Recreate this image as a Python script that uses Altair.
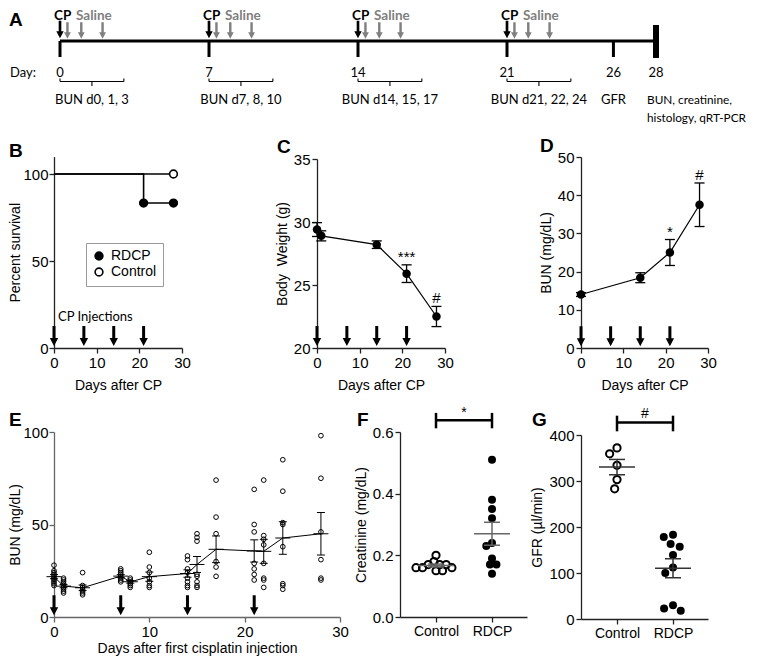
import altair as alt
import pandas as pd

# ======================= data =======================
# Panel A - protocol timeline (days)
cp_days = [0, 7, 14, 21]
saline_after_cp = [0.35, 1.0, 2.0]
timeline_ticks = [0, 7, 14, 21, 26]
end_day = 28
day_numbers = [0, 7, 14, 21, 26, 28]
bun_window_start = [0, 7, 14, 21]
bun_window_len = 3
bun_window_labels = ["BUN d0, 1, 3", "BUN d7, 8, 10", "BUN d14, 15, 17", "BUN d21, 22, 24"]
gfr_day = 26
end_labels = ["BUN, creatinine,", "histology, qRT-PCR"]

# Panel B - survival
surv_line_group = ["Control", "Control", "RDCP", "RDCP", "RDCP"]
surv_line_day = [0, 28, 0, 21, 28]
surv_line_pct = [100, 100, 100, 83.3, 83.3]
surv_pt_group = ["RDCP", "RDCP", "Control"]
surv_pt_day = [21, 28, 28]
surv_pt_pct = [83.3, 83.3, 100]
injection_days = [0, 7, 14, 21]

# Panel C - body weight
bw_day = [0, 1, 14, 21, 28]
bw_mean = [29.4, 28.9, 28.2, 25.9, 22.5]
bw_sem = [0.55, 0.4, 0.3, 0.7, 0.8]
bw_sig = ["", "", "", "***", "#"]

# Panel D - BUN
bun_day = [0, 14, 21, 28]
bun_mean = [14.0, 18.4, 25.0, 37.5]
bun_sem = [0.5, 1.3, 3.4, 5.7]
bun_sig = ["", "", "*", "#"]

# Panel E - BUN individual values
e_day = [0, 1, 3, 7, 8, 10, 14, 15, 17, 21, 22, 24, 28]
e_values = [
    [28, 25, 24, 23, 22, 21, 20, 19, 18, 17],
    [21, 20, 19, 18, 17, 16, 15, 14, 13],
    [24, 17, 16, 15, 14, 13, 12],
    [26, 25, 24, 23, 22, 21, 20, 19],
    [21, 20, 19, 18, 17, 16],
    [35, 27, 24, 21, 19, 17, 16],
    [33, 31, 26, 24, 21, 19, 17, 16],
    [45, 43, 41, 23, 22, 19, 17, 16],
    [74, 54, 45, 30, 27, 22],
    [69, 50, 46, 29, 26, 23, 20],
    [74, 44, 42, 39, 29, 21, 20, 16],
    [85, 68, 51, 50, 38, 18, 17, 15],
    [98, 75, 46, 31, 21, 20],
]
e_mean = [21.8, 16.7, 15.8, 22.1, 19.0, 21.8, 23.5, 28.4, 36.6, 35.7, 35.5, 42.7, 45.0]
e_sem = [1.1, 0.9, 1.5, 0.8, 0.7, 2.5, 2.0, 4.3, 7.2, 6.0, 6.5, 8.8, 11.5]

# Panel F - creatinine
groups = ["Control", "RDCP"]
creat_control = [0.20, 0.18, 0.17, 0.17, 0.17, 0.16, 0.16, 0.16, 0.15, 0.15]
creat_rdcp = [0.51, 0.38, 0.35, 0.32, 0.24, 0.23, 0.19, 0.17, 0.17, 0.14]
creat_sig = "*"

# Panel G - GFR
gfr_control = [372, 359, 334, 303, 283]
gfr_rdcp = [183, 178, 163, 157, 139, 112, 100, 30, 23, 18]
gfr_sig = "#"

# ======================= layout (page pixels) =======================
W, H = 744, 648
M = 8  # page margin


def p(v):
    return v - M


GEO = {
    "A": ((60, 656), (0, 120)),
    "B": ((54, 182), (348, 156.6)),
    "C": ((317, 445), (348, 159)),
    "D": ((581, 708), (348, 157)),
    "E": ((54, 340), (617, 432)),
    "F": ((400, 527), (617, 432)),
    "G": ((581, 708), (619, 435)),
}
DOM = {
    "A": ([0, 28], [0, 120]),
    "B": ([0, 30], [0, 110]),
    "C": ([0, 30], [20, 35]),
    "D": ([0, 30], [0, 50]),
    "E": ([0, 30], [0, 100]),
    "F": ([-0.643, 1.625], [0, 0.6]),
    "G": ([-0.643, 1.625], [0, 400]),
}


def scales(k):
    (gx, gy), (dx, dy) = GEO[k], DOM[k]
    return (alt.Scale(domain=dx, range=[p(gx[0]), p(gx[1])], nice=False, zero=False),
            alt.Scale(domain=dy, range=[p(gy[0]), p(gy[1])], nice=False, zero=False))


ARIAL = "Liberation Sans"
CAL = "Lato"
AX = "#222222"
ARROW = "M-0.15,-1L0.15,-1L0.15,0.2L0.42,0.2L0,1L-0.42,0.2L-0.15,0.2Z"


def common_axis(**kw):
    base = dict(grid=False, domainColor=AX, domainWidth=1.3, tickColor=AX, tickWidth=1.3,
                tickSize=5, labelColor="black", labelFont=ARIAL, labelFontSize=15,
                labelPadding=2, labelFlush=False, labelOverlap=False, labelBound=False,
                titleColor="black", titleFont=ARIAL, titleFontSize=14,
                titleFontWeight="normal")
    base.update(kw)
    return alt.Axis(**base)


def yaxis(k, title, values, tp=4, **kw):
    return common_axis(orient="left", offset=-p(GEO[k][0][0]), title=title,
                       values=values, titlePadding=tp, **kw)


def xaxis(k, title, values, tp=8, **kw):
    return common_axis(orient="bottom", offset=p(GEO[k][1][0]) - H, title=title,
                       values=values, titlePadding=tp, **kw)


def encoders(k, xa, ya):
    xs, ys = scales(k)

    def X(f):
        return alt.X(f + ":Q", scale=xs, axis=xa)

    def Y(f):
        return alt.Y(f + ":Q", scale=ys, axis=ya)
    return X, Y


# ======================= Panel A =======================
XA, YA = encoders("A", None, None)
ROW = dict(label=16, cp_arrow=29.5, sal_arrow=30.5, line=41, tick_end=57, bar_top=25,
           bar_bot=58, day=73, hook=78.5, brace=81.5, tip=86, t1=100, t2=118)
FA = 13

a_layers = []
a_layers.append(alt.Chart(pd.DataFrame({"x": [0], "x2": [end_day], "y": [ROW["line"]]}))
                .mark_rule(color="black", strokeWidth=3)
                .encode(x=XA("x"), x2="x2:Q", y=YA("y")))
a_layers.append(alt.Chart(pd.DataFrame({"x": timeline_ticks, "y": ROW["line"], "y2": ROW["tick_end"]}))
                .mark_rule(color="black", strokeWidth=3)
                .encode(x=XA("x"), y=YA("y"), y2="y2:Q"))
a_layers.append(alt.Chart(pd.DataFrame({"x": [end_day], "y": [ROW["bar_top"]], "y2": [ROW["bar_bot"]]}))
                .mark_rule(color="black", strokeWidth=6)
                .encode(x=XA("x"), y=YA("y"), y2="y2:Q"))
sal = [d + o for d in cp_days for o in saline_after_cp]
a_layers.append(alt.Chart(pd.DataFrame({"x": sal, "y": ROW["sal_arrow"]}))
                .mark_point(shape=ARROW, filled=True, size=265, color="#808080", opacity=1)
                .encode(x=XA("x"), y=YA("y")))
a_layers.append(alt.Chart(pd.DataFrame({"x": cp_days, "y": ROW["cp_arrow"]}))
                .mark_point(shape=ARROW, filled=True, size=310, color="black", opacity=1)
                .encode(x=XA("x"), y=YA("y")))
a_layers.append(alt.Chart(pd.DataFrame({"x": cp_days, "y": ROW["label"], "t": "CP"}))
                .mark_text(align="left", baseline="middle", dx=-6, font=CAL, fontSize=13.5,
                           fontWeight="bold", color="black")
                .encode(x=XA("x"), y=YA("y"), text="t:N"))
a_layers.append(alt.Chart(pd.DataFrame({"x": cp_days, "y": ROW["label"], "t": "Saline"}))
                .mark_text(align="left", baseline="middle", dx=16, font=CAL, fontSize=13.5,
                           fontWeight="bold", color="#808080")
                .encode(x=XA("x"), y=YA("y"), text="t:N"))
a_layers.append(alt.Chart(pd.DataFrame({"x": [0], "y": [ROW["day"]], "t": ["Day:"]}))
                .mark_text(align="left", baseline="middle", dx=-50, font=CAL, fontSize=FA, color="black")
                .encode(x=XA("x"), y=YA("y"), text="t:N"))
a_layers.append(alt.Chart(pd.DataFrame({"x": day_numbers, "y": ROW["day"], "t": [str(d) for d in day_numbers]}))
                .mark_text(align="center", baseline="middle", font=CAL, fontSize=FA, color="black")
                .encode(x=XA("x"), y=YA("y"), text="t:N"))
# braces
a_layers.append(alt.Chart(pd.DataFrame({"x": bun_window_start,
                                        "x2": [d + bun_window_len for d in bun_window_start],
                                        "y": ROW["brace"]}))
                .mark_rule(color="black", strokeWidth=1.1)
                .encode(x=XA("x"), x2="x2:Q", y=YA("y")))
hooks = bun_window_start + [d + bun_window_len for d in bun_window_start]
a_layers.append(alt.Chart(pd.DataFrame({"x": hooks, "y": ROW["hook"], "y2": ROW["brace"]}))
                .mark_rule(color="black", strokeWidth=1.1)
                .encode(x=XA("x"), y=YA("y"), y2="y2:Q"))
mids = [d + bun_window_len / 2 for d in bun_window_start]
a_layers.append(alt.Chart(pd.DataFrame({"x": mids, "y": ROW["brace"], "y2": ROW["tip"]}))
                .mark_rule(color="black", strokeWidth=1.1)
                .encode(x=XA("x"), y=YA("y"), y2="y2:Q"))
a_layers.append(alt.Chart(pd.DataFrame({"x": mids + [gfr_day], "y": ROW["t1"],
                                        "t": bun_window_labels + ["GFR"]}))
                .mark_text(align="center", baseline="middle", font=CAL, fontSize=FA, color="black")
                .encode(x=XA("x"), y=YA("y"), text="t:N"))
a_layers.append(alt.Chart(pd.DataFrame({"x": [end_day, end_day], "y": [ROW["t1"], ROW["t2"]],
                                        "t": end_labels}))
                .mark_text(align="left", baseline="middle", dx=-9, font=CAL, fontSize=11.8, color="black")
                .encode(x=XA("x"), y=YA("y"), text="t:N"))
panelA = alt.layer(*a_layers)

# ======================= Panel B =======================
XB, YB = encoders("B", xaxis("B", "Days after CP", [0, 10, 20, 30]),
                  yaxis("B", "Percent survival", [0, 50, 100], tp=0, labelPadding=1))
df_sl = pd.DataFrame({"g": surv_line_group, "x": surv_line_day, "y": surv_line_pct})
df_sp = pd.DataFrame({"g": surv_pt_group, "x": surv_pt_day, "y": surv_pt_pct})
b_line = (alt.Chart(df_sl).mark_line(interpolate="step-after", color="black", strokeWidth=1.6)
          .encode(x=XB("x"), y=YB("y"), detail="g:N"))
b_pts = (alt.Chart(df_sp).mark_point(shape="circle", filled=True, size=60, stroke="black",
                                     strokeWidth=1.6, opacity=1)
         .encode(x=XB("x"), y=YB("y"),
                 fill=alt.Fill("g:N", scale=alt.Scale(domain=["RDCP", "Control"], range=["black", "white"]),
                               legend=alt.Legend(title=None, orient="none", legendX=p(86), legendY=p(243),
                                                 padding=6, strokeColor="#9a9a9a", fillColor="white",
                                                 labelFont=ARIAL, labelFontSize=14, labelColor="black",
                                                 symbolSize=60, symbolType="circle", rowPadding=0,
                                                 labelOffset=5, direction="vertical",
                                                 symbolStrokeColor="black", symbolStrokeWidth=1.6))))
b_text = (alt.Chart(pd.DataFrame({"x": [0], "y": [17.8], "t": ["CP Injections"]}))
          .mark_text(align="left", baseline="middle", dx=4, font=CAL, fontSize=FA, color="black")
          .encode(x=XB("x"), y=YB("y"), text="t:N"))
b_arr = (alt.Chart(pd.DataFrame({"x": injection_days, "y": 6.9}))
         .mark_point(shape=ARROW, filled=True, size=400, color="black", opacity=1)
         .encode(x=XB("x"), y=YB("y")))
panelB = alt.layer(b_line, b_text, b_arr, b_pts)


# ======================= Panels C, D (mean +/- SEM time courses) =======================
def course(k, days, mean, sem, sig, ytitle, yvals, arrow_y):
    X, Y = encoders(k, xaxis(k, "Days after CP", [0, 10, 20, 30]), yaxis(k, ytitle, yvals))
    df = pd.DataFrame({"x": days, "m": mean, "lo": [a - b for a, b in zip(mean, sem)],
                       "hi": [a + b for a, b in zip(mean, sem)], "s": sig})
    arr = (alt.Chart(pd.DataFrame({"x": injection_days, "y": arrow_y}))
           .mark_point(shape=ARROW, filled=True, size=400, color="black", opacity=1)
           .encode(x=X("x"), y=Y("y")))
    bars = (alt.Chart(df).mark_rule(color="black", strokeWidth=1.3)
            .encode(x=X("x"), y=Y("lo"), y2="hi:Q"))
    cap_lo = (alt.Chart(df).mark_tick(orient="horizontal", size=10, thickness=1.3, color="black", opacity=1)
              .encode(x=X("x"), y=Y("lo")))
    cap_hi = (alt.Chart(df).mark_tick(orient="horizontal", size=10, thickness=1.3, color="black", opacity=1)
              .encode(x=X("x"), y=Y("hi")))
    line = (alt.Chart(df).mark_line(color="black", strokeWidth=1.2)
            .encode(x=X("x"), y=Y("m")))
    pts = (alt.Chart(df).mark_circle(size=72, color="black", opacity=1)
           .encode(x=X("x"), y=Y("m")))
    txt = (alt.Chart(df).mark_text(baseline="alphabetic", dy=-3, font=ARIAL, fontSize=15, color="black")
           .encode(x=X("x"), y=Y("hi"), text="s:N"))
    return alt.layer(arr, bars, cap_lo, cap_hi, line, pts, txt)


panelC = course("C", bw_day, bw_mean, bw_sem, bw_sig, "Body\u00a0\u00a0Weight (g)", [20, 25, 30, 35], 20.95)
panelD = course("D", bun_day, bun_mean, bun_sem, bun_sig, "BUN (mg/dL)", [0, 10, 20, 30, 40, 50], 3.1)

# ======================= Panel E =======================
XE, YE = encoders("E", xaxis("E", "Days after first cisplatin injection", [0, 10, 20, 30], tp=2,
                             domainColor="#666666", tickColor="#666666"),
                  yaxis("E", "BUN (mg/dL)", [0, 50, 100], tp=0, labelPadding=1,
                        domainColor="#666666", tickColor="#666666"))
df_e = pd.DataFrame([{"x": d, "v": v} for d, vals in zip(e_day, e_values) for v in vals])
df_em = pd.DataFrame({"x": e_day, "m": e_mean, "lo": [a - b for a, b in zip(e_mean, e_sem)],
                      "hi": [a + b for a, b in zip(e_mean, e_sem)]})
e_arr = (alt.Chart(pd.DataFrame({"x": injection_days, "y": 6.3}))
         .mark_point(shape=ARROW, filled=True, size=400, color="black", opacity=1)
         .encode(x=XE("x"), y=YE("y")))
e_pts = (alt.Chart(df_e).mark_point(shape="circle", filled=False, size=22, color="black",
                                    strokeWidth=1, opacity=1)
         .encode(x=XE("x"), y=YE("v")))
e_line = (alt.Chart(df_em).mark_line(color="black", strokeWidth=1)
          .encode(x=XE("x"), y=YE("m")))
e_mtick = (alt.Chart(df_em).mark_tick(orient="horizontal", size=15, thickness=1, color="black", opacity=1)
           .encode(x=XE("x"), y=YE("m")))
e_bar = (alt.Chart(df_em).mark_rule(color="black", strokeWidth=1)
         .encode(x=XE("x"), y=YE("lo"), y2="hi:Q"))
e_clo = (alt.Chart(df_em).mark_tick(orient="horizontal", size=8, thickness=1, color="black", opacity=1)
         .encode(x=XE("x"), y=YE("lo")))
e_chi = (alt.Chart(df_em).mark_tick(orient="horizontal", size=8, thickness=1, color="black", opacity=1)
         .encode(x=XE("x"), y=YE("hi")))
panelE = alt.layer(e_arr, e_pts, e_line, e_mtick, e_bar, e_clo, e_chi)


# ======================= Panels F, G (scatter with mean +/- SEM) =======================
def swarm(vals, ypx, diam):
    order = sorted(range(len(vals)), key=lambda i: -vals[i])
    placed, out = [], [0.0] * len(vals)
    for i in order:
        y = vals[i] * ypx
        cands = [0.0]
        for xj, yj in placed:
            dy = abs(y - yj)
            if dy < diam:
                dx = (diam ** 2 - dy ** 2) ** 0.5
                cands += [xj - dx, xj + dx]
        cands.sort(key=lambda c: (round(abs(c), 6), c))
        for c in cands:
            if all((c - xj) ** 2 + (y - yj) ** 2 >= diam ** 2 - 1e-6 for xj, yj in placed):
                out[i] = c
                placed.append((c, y))
                break
    return out


def mean_sem(v):
    n = len(v)
    m = sum(v) / n
    sd = (sum((a - m) ** 2 for a in v) / (n - 1)) ** 0.5
    return m, sd / n ** 0.5


def scatter(k, ctrl, rdcp, ytitle, yvals, fmt, sig, br_y, br_lo, br_hi, stat_color, sig_dy, diam):
    X, Y = encoders(k, xaxis(k, None, [0, 1], labelExpr="datum.value == 0 ? 'Control' : 'RDCP'",
                             labelFontSize=14),
                    yaxis(k, ytitle, yvals, **fmt))
    (gx, gy), (dx, dy) = GEO[k], DOM[k]
    xpx = (gx[1] - gx[0]) / (dx[1] - dx[0])
    ypx = (gy[0] - gy[1]) / (dy[1] - dy[0])
    rows = []
    for gi, (g, vals) in enumerate(zip(groups, [ctrl, rdcp])):
        offs = swarm(vals, ypx, diam)
        for v, o in zip(vals, offs):
            rows.append({"g": g, "x": gi + o / xpx, "v": v})
    df = pd.DataFrame(rows)
    st = []
    for gi, vals in enumerate([ctrl, rdcp]):
        m, s = mean_sem(vals)
        st.append({"x": gi, "m": m, "lo": m - s, "hi": m + s})
    dfs = pd.DataFrame(st)
    ctrl_pts = (alt.Chart(df[df.g == "Control"])
                .mark_point(shape="circle", filled=False, size=52, color="black", strokeWidth=2, opacity=1)
                .encode(x=X("x"), y=Y("v")))
    rdcp_pts = (alt.Chart(df[df.g == "RDCP"])
                .mark_circle(size=64, color="black", opacity=1)
                .encode(x=X("x"), y=Y("v")))
    mean_t = (alt.Chart(dfs).mark_tick(orient="horizontal", size=36, thickness=1.5, color=stat_color, opacity=1)
              .encode(x=X("x"), y=Y("m")))
    bar = (alt.Chart(dfs).mark_rule(color=stat_color, strokeWidth=1.5)
           .encode(x=X("x"), y=Y("lo"), y2="hi:Q"))
    clo = (alt.Chart(dfs).mark_tick(orient="horizontal", size=16, thickness=1.5, color=stat_color, opacity=1)
           .encode(x=X("x"), y=Y("lo")))
    chi = (alt.Chart(dfs).mark_tick(orient="horizontal", size=16, thickness=1.5, color=stat_color, opacity=1)
           .encode(x=X("x"), y=Y("hi")))
    brh = (alt.Chart(pd.DataFrame({"x": [0], "x2": [1], "y": [br_y]}))
           .mark_rule(color="black", strokeWidth=2.5)
           .encode(x=X("x"), x2="x2:Q", y=Y("y")))
    brv = (alt.Chart(pd.DataFrame({"x": [0, 1], "y": br_lo, "y2": br_hi}))
           .mark_rule(color="black", strokeWidth=2.5)
           .encode(x=X("x"), y=Y("y"), y2="y2:Q"))
    txt = (alt.Chart(pd.DataFrame({"x": [0.5], "y": [br_y], "t": [sig]}))
           .mark_text(baseline="alphabetic", dy=sig_dy, font=ARIAL, fontSize=14, color="black")
           .encode(x=X("x"), y=Y("y"), text="t:N"))
    return alt.layer(ctrl_pts, rdcp_pts, mean_t, bar, clo, chi, brh, brv, txt)


panelF = scatter("F", creat_control, creat_rdcp, "Creatinine (mg/dL)", [0, 0.2, 0.4, 0.6],
                 {"format": ".1f"}, creat_sig, 0.638, 0.612, 0.662, "#666666", -3, 6.5)
panelG = scatter("G", gfr_control, gfr_rdcp, "GFR (\u00b5l/min)", [0, 100, 200, 300, 400],
                 {}, gfr_sig, 427, 408, 442, "#333333", -5, 9.5)

# ======================= panel letters =======================
letters = [("A", 9, 12), ("B", 9, 143), ("C", 277, 139), ("D", 540, 138),
           ("E", 9, 412), ("F", 357, 412), ("G", 532, 412)]
letter_layers = [
    alt.Chart(pd.DataFrame({"t": [t]})).mark_text(align="left", baseline="top", font=ARIAL, fontSize=19,
                                                  fontWeight="bold", color="black")
    .encode(x=alt.value(p(lx)), y=alt.value(p(ly) - 1), text="t:N")
    for t, lx, ly in letters
]

chart = (alt.layer(panelA, panelB, panelC, panelD, panelE, panelF, panelG, *letter_layers)
         .resolve_scale(x="independent", y="independent", fill="independent")
         .properties(width=W, height=H, autosize=alt.AutoSizeParams(type="none"), padding=0,
                     background="white")
         .configure_view(stroke=None))

chart.save("out.html", embed_options={"renderer": "svg", "actions": False})
